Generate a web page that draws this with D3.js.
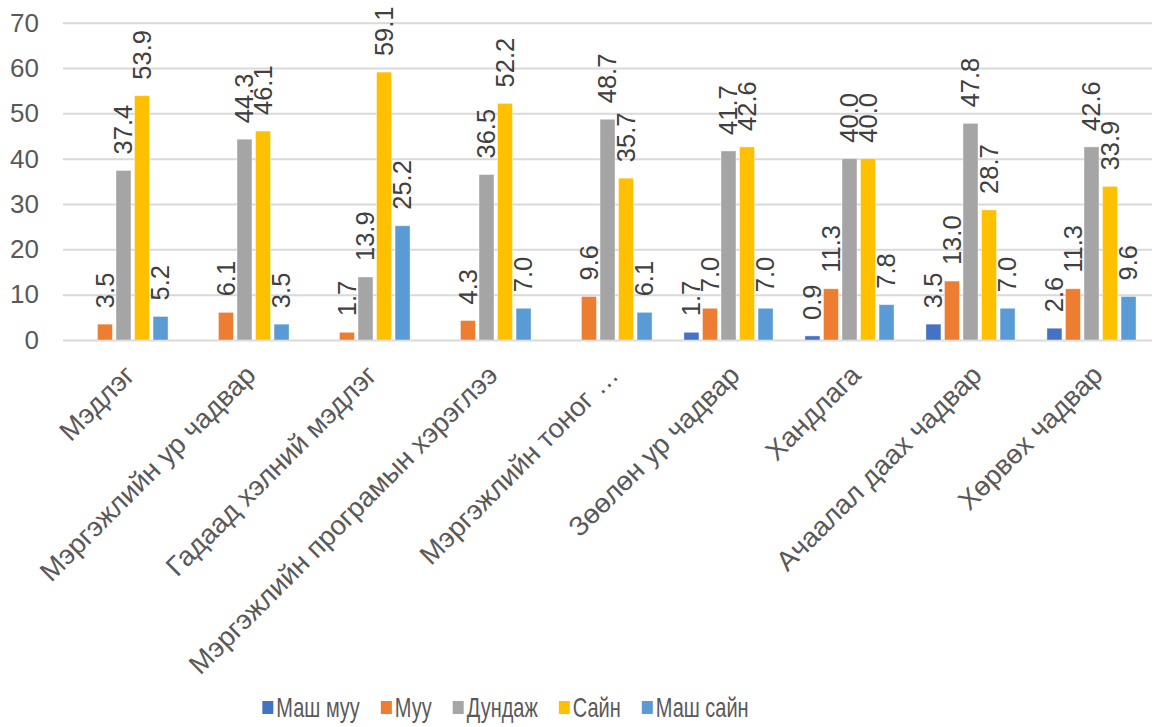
<!DOCTYPE html>
<html>
<head>
<meta charset="utf-8">
<script src="https://cdn.jsdelivr.net/npm/d3@7"></script>
<style>
  body { margin: 0; background: #fff; }
  svg { display: block; font-family: Arial, "Liberation Sans", sans-serif; }
</style>
</head>
<body>
<svg id="chart" width="1155" height="727"></svg>
<script>
// categories on the x axis
var categories = [
  'Мэдлэг',
  'Мэргэжлийн ур чадвар',
  'Гадаад хэлний мэдлэг',
  'Мэргэжлийн програмын хэрэглээ',
  'Мэргэжлийн тоног …',
  'Зөөлөн ур чадвар',
  'Хандлага',
  'Ачаалал даах чадвар',
  'Хөрвөх чадвар'
];

var seriesNames = ['Маш муу', 'Муу', 'Дундаж', 'Сайн', 'Маш сайн'];
var seriesColors = ['#4472C4', '#ED7D31', '#A5A5A5', '#FFC000', '#5B9BD5'];

// values per series (null = no bar)
var mashMuu  = [null, null, null, null, null, 1.7, 0.9, 3.5, 2.6];
var muu      = [3.5, 6.1, 1.7, 4.3, 9.6, 7.0, 11.3, 13.0, 11.3];
var dundaj   = [37.4, 44.3, 13.9, 36.5, 48.7, 41.7, 40.0, 47.8, 42.6];
var sain     = [53.9, 46.1, 59.1, 52.2, 35.7, 42.6, 40.0, 28.7, 33.9];
var mashSain = [5.2, 3.5, 25.2, 7.0, 6.1, 7.0, 7.8, 7.0, 9.6];

var yTicks = [0, 10, 20, 30, 40, 50, 60, 70];

var allSeries = [mashMuu, muu, dundaj, sain, mashSain];

var svg = d3.select('#chart');

var plot = { left: 63, right: 1152, top: 22.7, bottom: 340 };

var x0 = d3.scaleBand().domain(categories).range([plot.left, plot.right]).paddingInner(0).paddingOuter(0);
var x1 = d3.scaleBand().domain(seriesNames).range([0, x0.bandwidth()]).paddingInner(0.19).paddingOuter(0.86);
var y = d3.scaleLinear().domain([0, 70]).range([plot.bottom, plot.top]);

// gridlines + y labels
var yAxis = d3.axisLeft(y).tickValues(yTicks).tickSize(-(plot.right - plot.left)).tickPadding(24).tickFormat(d3.format('d'));
svg.append('g')
    .attr('transform', 'translate(' + plot.left + ',0)')
    .call(yAxis)
    .call(function(g) {
      g.select('.domain').remove();
      g.selectAll('line').attr('stroke', '#D9D9D9').attr('stroke-width', 2);
      g.selectAll('text')
        .attr('fill', '#595959')
        .style('font-size', '26px')
        .style('font-family', 'Arial, "Liberation Sans", sans-serif');
    });

// rows for binding
var rows = categories.map(function(c, i) {
  return seriesNames.map(function(s, j) {
    return { cat: c, series: s, color: seriesColors[j], value: allSeries[j][i] };
  });
});

var groups = svg.selectAll('g.cat').data(rows).enter().append('g')
    .attr('class', 'cat')
    .attr('transform', function(d, i) { return 'translate(' + x0(categories[i]) + ',0)'; });

groups.selectAll('rect')
  .data(function(d) { return d.filter(function(v) { return v.value != null; }); })
  .enter().append('rect')
    .attr('x', function(d) { return x1(d.series); })
    .attr('width', x1.bandwidth())
    .attr('y', function(d) { return y(d.value); })
    .attr('height', function(d) { return y(0) - y(d.value); })
    .attr('fill', function(d) { return d.color; })
    .attr('stroke', '#fff')
    .attr('stroke-opacity', 0.5)
    .attr('stroke-width', 0.8);

// value labels, rotated
groups.selectAll('text.val')
  .data(function(d) { return d.filter(function(v) { return v.value != null; }); })
  .enter().append('text')
    .attr('class', 'val')
    .attr('transform', function(d) {
      return 'translate(' + (x1(d.series) + x1.bandwidth() / 2) + ',' + (y(d.value) - 16) + ') rotate(-90)';
    })
    .attr('dy', '0.35em')
    .attr('fill', '#404040')
    .style('font-size', '25.5px')
    .text(function(d) { return d.value.toFixed(1); });

// category labels
svg.append('g').selectAll('text')
  .data(categories).enter().append('text')
    .attr('transform', function(d) {
      return 'translate(' + (x0(d) + x0.bandwidth() / 2 + 6) + ',' + 370 + ') rotate(-45)';
    })
    .attr('text-anchor', 'end')
    .attr('dy', '0.35em')
    .attr('fill', '#595959')
    .style('font-size', '27.5px')
    .text(function(d) { return d; });

// legend
var legendScale = 0.74;
var legend = svg.append('g').attr('class', 'legend');
var items = legend.selectAll('g').data(seriesNames).enter().append('g');
items.append('rect')
    .attr('width', 11).attr('height', 13)
    .attr('y', 701)
    .attr('fill', function(d, i) { return seriesColors[i]; });
items.append('text')
    .attr('transform', 'translate(14,708) scale(' + legendScale + ',1)')
    .attr('dy', '0.35em')
    .attr('fill', '#595959')
    .style('font-size', '27px')
    .text(function(d) { return d; });

var xPos = 0, positions = [];
items.each(function() {
  positions.push(xPos);
  xPos += 14 + d3.select(this).select('text').node().getComputedTextLength() * legendScale + 21;
});
var total = xPos - 21;
var start = 505.5 - total / 2;
items.attr('transform', function(d, i) { return 'translate(' + (start + positions[i]) + ',0)'; });
</script>
</body>
</html>
